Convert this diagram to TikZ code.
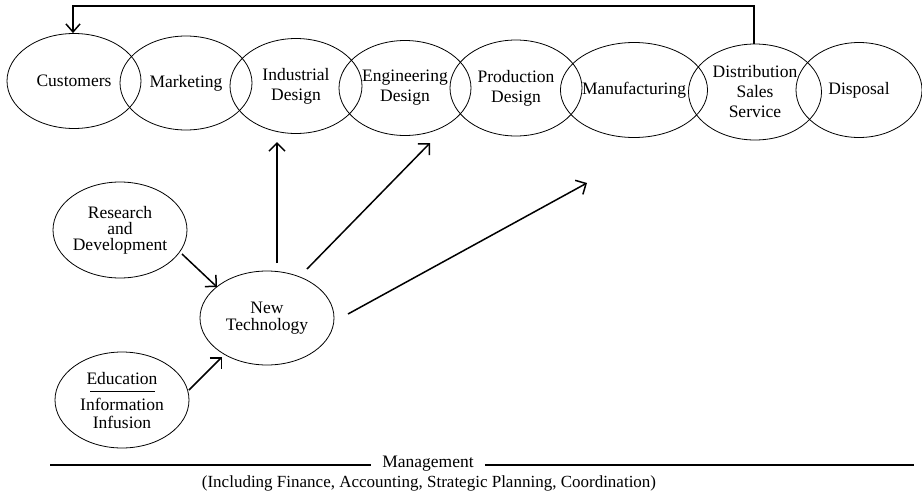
\documentclass[tikz,border=0pt]{standalone}
\usepackage{fontspec}
\setmainfont{Liberation Serif}
\newfontfamily\diagfont{Liberation Serif}
\usetikzlibrary{shapes.geometric,arrows.meta}
\begin{document}
\begin{tikzpicture}[x=1pt,y=-1pt,
  bubble/.style={draw,ellipse,line width=0.8pt,inner sep=0pt,align=center,
    font=\diagfont\fontsize{17.5}{20}\selectfont},
  arr/.style={line width=1.5pt,-{Straight Barb[length=8pt,width=16pt,line width=1.5pt]}},
  feed/.style={line width=1.8pt,-{Straight Barb[length=8pt,width=14pt,line width=1.5pt]}},
  mline/.style={line width=1.8pt},
  lbl/.style={font=\diagfont\fontsize{17.5}{20}\selectfont,inner sep=0pt}]
\useasboundingbox (0,0) rectangle (922,501);

% life-cycle chain
\node[bubble,minimum width=134pt,minimum height=95pt] (cus) at (74,81) {Customers};
\node[bubble,minimum width=132pt,minimum height=94pt] (mkt) at (186,83) {Marketing};
\node[bubble,minimum width=132pt,minimum height=95pt] (ind) at (296,86) {Industrial\\Design};
\node[bubble,minimum width=132pt,minimum height=95pt] (eng) at (405,88) {Engineering\\Design};
\node[bubble,minimum width=132pt,minimum height=96pt] (pro) at (516,88) {Production\\Design};
\node[bubble,minimum width=134pt,minimum height=95pt] (man) at (634,90) {Manufacturing};
\node[bubble,minimum width=133pt,minimum height=96pt] (dis) at (755,92) {Distribution\\Sales\\Service};
\node[bubble,minimum width=126pt,minimum height=95pt] (dsp) at (859,90) {Disposal};

% feedback from distribution back to customers
\coordinate (fb1) at (754,6);
\coordinate (fb2) at (73,6);
\draw[feed] (dis.north -| fb1) -- (fb1) -- (fb2) -- (fb2 |- cus.north);

% technology sources
\node[bubble,minimum width=134pt,minimum height=96pt,
  font=\diagfont\fontsize{17.5}{16}\selectfont] (rd) at (120,230) {Research\\and\\Development};
\node[bubble,minimum width=134pt,minimum height=94pt,
  font=\diagfont\fontsize{17.5}{17}\selectfont] (nt) at (267,318) {New\\Technology};
\node[bubble,minimum width=134pt,minimum height=96pt] (edu) at (122,400) {};
\node[lbl] (edut) at (122,379) {Education};
\node[lbl] (info) at (122,404) {Information};
\node[lbl] (infu) at (122,422) {Infusion};
\draw[line width=0.8pt] (90,391) -- (155,391);

% arrows
\coordinate (rds) at (182,254);
\coordinate (rdt) at (217,287);
\draw[arr] (rds) -- (rdt);
\coordinate (eds) at (189,390);
\coordinate (edt) at (222,357);
\draw[arr] (eds) -- (edt);
\coordinate (a1s) at (277,263);
\coordinate (a1t) at (277,142);
\draw[arr] (a1s) -- (a1t);
\coordinate (a2s) at (307,269);
\coordinate (a2t) at (430,143);
\draw[arr] (a2s) -- (a2t);
\coordinate (a3s) at (348,314);
\coordinate (a3t) at (587,183);
\draw[arr] (a3s) -- (a3t);

% management bar
\node[lbl,inner xsep=11pt] (mg) at (428,464) {Management};
\coordinate (ml) at (50,465);
\coordinate (mr) at (914,465);
\draw[mline] (ml) -- (mg.west |- ml);
\draw[mline] (mg.east |- mr) -- (mr);
\node[lbl,font=\diagfont\fontsize{17}{20}\selectfont] (cap) at (429,483)
  {(Including Finance, Accounting, Strategic Planning, Coordination)};
\end{tikzpicture}
\end{document}
